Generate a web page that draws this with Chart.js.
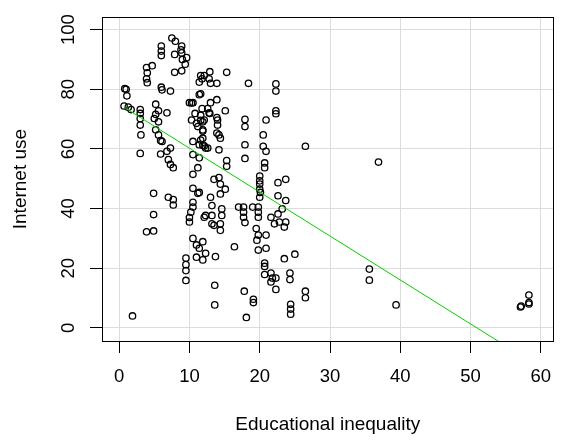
<!DOCTYPE html>
<html>
<head>
<meta charset="utf-8">
<script src="https://cdn.jsdelivr.net/npm/chart.js@4/dist/chart.umd.min.js"></script>
<style>
  html, body { margin: 0; padding: 0; background: #fff; }
  canvas { display: block; }
</style>
</head>
<body>
<canvas id="scatterChart" width="564" height="443"></canvas>
<script>
// DATA
const eduInequality = [
  0.8, 1.0, 1.1, 0.7, 1.3, 1.7, 1.9,
  3.0, 3.0, 3.0, 3.0, 3.1, 3.0,
  3.9, 4.0, 3.9, 4.0, 4.7, 5.2, 5.6, 5.2, 5.0, 5.6, 5.2, 5.6, 5.9, 6.1, 5.9, 4.9, 4.9, 3.9, 4.9,
  6.0, 6.0, 6.0, 6.1, 6.0, 7.3, 6.8, 7.3, 6.8, 7.0, 7.3, 7.7, 7.0, 7.7, 7.7,
  7.5, 8.0, 8.9, 8.8, 8.9, 7.9, 9.6, 9.4, 7.9, 8.9, 9.0,
  9.5, 9.5, 9.5, 9.5, 10.3, 10.0, 10.5, 10.8, 10.3, 11.0, 10.5, 10.5, 10.5, 10.5, 10.5, 10.5,
  10.2, 10.0, 10.0, 10.5, 11.0, 11.9, 11.0, 11.9,
  11.4, 11.6, 11.9, 12.1, 11.6, 11.2, 11.9, 11.6, 11.9, 12.6, 11.4, 12.1, 11.4, 11.2, 11.4, 11.2,
  12.1, 12.6, 12.9, 13.0, 11.6, 12.1, 11.8, 12.8, 13.0, 11.4, 11.6, 12.9, 11.8, 12.8, 12.3,
  11.9, 11.9, 12.3, 11.4, 12.3,
  13.9, 13.9, 15.3, 15.1, 13.9, 14.0, 14.0, 13.9, 14.2, 14.4, 14.2, 15.3, 15.3, 13.5, 14.2, 14.4,
  15.1, 14.4, 13.0, 13.2, 14.6, 13.2, 14.6, 13.2, 14.4, 13.5, 14.4, 13.7, 13.6, 13.6,
  16.4, 17.9, 17.9, 17.9, 17.9, 18.4, 17.0, 17.7, 17.7, 17.7, 17.9, 19.0, 19.8, 19.8, 19.8,
  19.5, 19.8, 19.6, 19.8, 17.8, 19.1, 19.1, 18.1,
  20.9, 20.5, 20.5, 20.9, 20.7, 20.7, 20.0, 20.0, 20.0, 20.0, 20.1, 20.0, 20.9, 20.9, 20.7,
  20.7, 20.7, 21.6, 21.8, 21.6, 22.3, 21.6,
  22.3, 22.3, 22.3, 22.3, 22.6, 23.7, 22.6, 23.7, 22.6, 23.2, 22.8, 23.7, 22.1, 23.5, 23.5,
  25.0, 24.3, 24.3, 24.4, 24.4, 24.4, 22.3,
  26.5, 26.5, 26.5, 36.9, 35.6, 35.6, 39.4, 57.1, 57.2, 58.3, 58.3, 58.3
];

const internetUse = [
  80.2, 80.0, 77.8, 74.4, 74.0, 73.2, 4.0,
  73.2, 71.9, 70.2, 68.0, 64.7, 58.5,
  87.3, 85.5, 83.5, 82.2, 87.9, 75.0, 72.8, 71.6, 70.2, 69.1, 66.4, 64.7, 62.8, 62.5, 58.3, 45.1, 38.0, 32.2, 32.5,
  94.5, 92.8, 91.3, 79.8, 80.7, 79.4, 72.1, 60.3, 59.2, 56.4, 54.8, 53.7, 43.8, 43.0, 41.2,
  97.2, 96.1, 94.5, 93.2, 92.2, 91.7, 90.6, 88.4, 85.7, 86.2, 90.0,
  23.4, 21.2, 19.2, 15.9, 75.4, 75.5, 75.5, 71.9, 69.7, 68.6, 62.5, 58.1, 51.5, 46.8, 42.1, 40.5,
  38.8, 37.0, 35.5, 30.0, 27.8, 28.9, 23.7, 22.8,
  78.2, 71.3, 69.1, 69.7, 69.6, 67.5, 66.0, 63.0, 61.2, 60.3, 61.4, 61.0, 57.0, 53.7, 45.4, 45.1,
  37.1, 73.5, 71.9, 75.5, 84.6, 84.6, 83.5, 83.5, 82.0, 82.4, 78.5, 85.9, 73.5, 72.1, 60.3,
  66.4, 63.6, 37.7, 26.7, 25.0,
  76.5, 82.0, 85.7, 72.8, 70.5, 69.7, 68.0, 65.3, 64.7, 63.6, 59.7, 56.1, 54.2, 49.8, 50.4, 48.2,
  46.5, 44.9, 43.8, 41.0, 39.9, 37.7, 37.7, 34.9, 34.9, 34.4, 32.7, 23.9, 14.3, 7.7,
  27.2, 69.9, 67.5, 61.4, 56.8, 82.0, 40.5, 40.5, 38.8, 37.1, 35.3, 40.5, 40.5, 38.8, 37.1,
  33.3, 31.1, 29.4, 26.1, 12.3, 9.6, 8.5, 3.5,
  69.7, 64.7, 60.9, 59.2, 55.3, 53.7, 50.9, 49.3, 48.2, 46.5, 45.4, 43.8, 31.1, 26.7, 21.7,
  20.6, 17.9, 18.4, 16.7, 15.4, 12.9, 37.1,
  81.8, 79.4, 72.8, 71.8, 48.7, 49.8, 44.3, 42.7, 38.2, 39.9, 35.5, 35.5, 34.9, 33.8, 23.2,
  24.7, 18.4, 16.2, 7.9, 6.3, 4.6, 16.7,
  60.9, 12.3, 10.1, 55.6, 19.7, 16.0, 7.7, 7.0, 7.3, 11.0, 8.5, 8.0
];

// FITTED LINE (end points)
const fitX = [0.67, 58.3];
const fitY = [74.0, -10.9];

// AXIS TICKS
const xTickValues = [0, 10, 20, 30, 40, 50, 60];
const yTickValues = [0, 20, 40, 60, 80, 100];

const points = eduInequality.map((x, i) => ({ x: x, y: internetUse[i] }));
const fitPoints = fitX.map((x, i) => ({ x: x, y: fitY[i] }));

const tickFont = { family: "'Liberation Sans', Arial, sans-serif", size: 18.5 };
const titleFont = { family: "'Liberation Sans', Arial, sans-serif", size: 19 };

// R STYLE BOX AROUND THE PLOT
const boxPlugin = {
  id: "plot-box",
  afterDraw(chart) {
    const { ctx, chartArea } = chart;
    const left = Math.round(chartArea.left) + 0.5;
    const top = Math.round(chartArea.top) + 0.5;
    const right = Math.round(chartArea.right) - 0.5;
    const bottom = Math.round(chartArea.bottom) + 0.5;
    ctx.save();
    ctx.strokeStyle = "#000";
    ctx.lineWidth = 1;
    ctx.strokeRect(left, top, right - left, bottom - top);
    ctx.restore();
  },
};

new Chart(document.getElementById("scatterChart"), {
  type: "scatter",
  data: {
    datasets: [
      {
        label: "Countries",
        data: points,
        pointStyle: "circle",
        pointRadius: 3.2,
        pointBorderWidth: 1.3,
        pointBackgroundColor: "rgba(0,0,0,0)",
        pointBorderColor: "#000",
        order: 1,
      },
      {
        type: "line",
        label: "Fit",
        data: fitPoints,
        borderColor: "#00d000",
        borderWidth: 1,
        pointRadius: 0,
        fill: false,
        tension: 0,
        order: 0,
      },
    ],
  },
  options: {
    responsive: false,
    animation: false,
    layout: { padding: { top: 10, right: 2, left: 0, bottom: 0 } },
    plugins: {
      legend: { display: false },
      tooltip: { enabled: false },
    },
    scales: {
      x: {
        type: "linear",
        min: -2.44,
        max: 61.8,
        afterBuildTicks: (scale) => {
          scale.ticks = xTickValues.map((v) => ({ value: v }));
        },
        afterFit: (scale) => {
          scale.height = 102;
        },
        grid: { color: "#dcdcdc", tickColor: "#000", tickLength: 12, lineWidth: 1 },
        border: { display: false },
        ticks: { font: tickFont, color: "#000", padding: 12.7, maxRotation: 0 },
        title: {
          display: true,
          text: "Educational inequality",
          font: titleFont,
          color: "#000",
          padding: { top: 0, bottom: 7 },
        },
      },
      y: {
        type: "linear",
        min: -4.4,
        max: 104.2,
        afterBuildTicks: (scale) => {
          scale.ticks = yTickValues.map((v) => ({ value: v }));
        },
        afterFit: (scale) => {
          scale.width = 102;
        },
        grid: { color: "#dcdcdc", tickColor: "#000", tickLength: 12, lineWidth: 1 },
        border: { display: false },
        ticks: {
          font: tickFont,
          color: "#000",
          padding: 6,
          minRotation: 90,
          maxRotation: 90,
          crossAlign: "center",
        },
        title: {
          display: true,
          text: "Internet use",
          font: titleFont,
          color: "#000",
          padding: { top: 9, bottom: 0 },
        },
      },
    },
  },
  plugins: [boxPlugin],
});
</script>
</body>
</html>
